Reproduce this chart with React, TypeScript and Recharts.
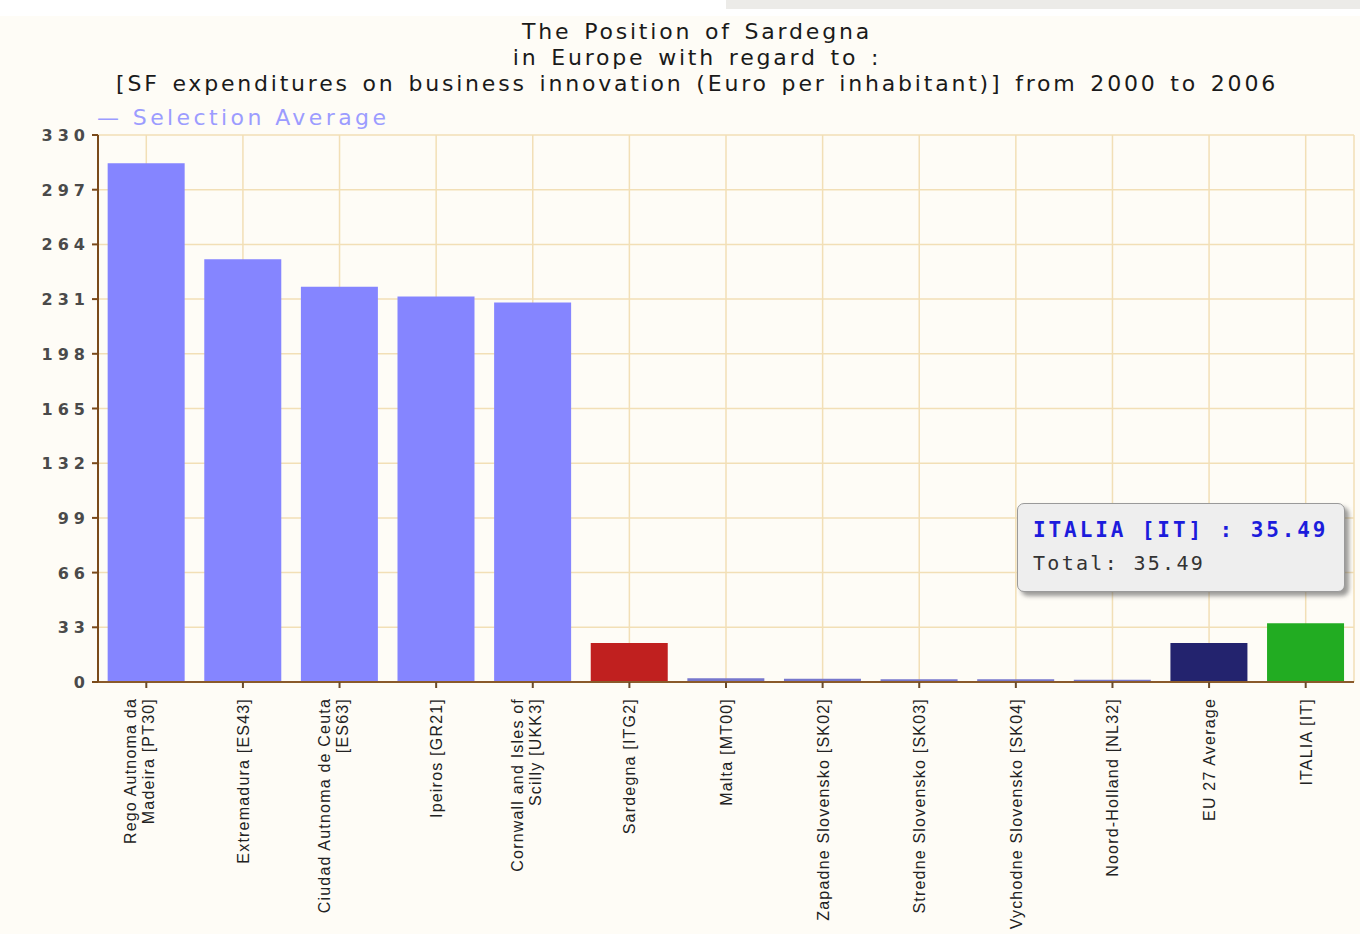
import React from "react";
import {
  BarChart,
  Bar,
  XAxis,
  YAxis,
  CartesianGrid,
  Tooltip,
  Cell,
} from "recharts";

const categories = [
  "Rego Autnoma da Madeira [PT30]",
  "Extremadura [ES43]",
  "Ciudad Autnoma de Ceuta [ES63]",
  "Ipeiros [GR21]",
  "Cornwall and Isles of Scilly [UKK3]",
  "Sardegna [ITG2]",
  "Malta [MT00]",
  "Zapadne Slovensko [SK02]",
  "Stredne Slovensko [SK03]",
  "Vychodne Slovensko [SK04]",
  "Noord-Holland [NL32]",
  "EU 27 Average",
  "ITALIA [IT]",
];

const tickLines: string[][] = [
  ["Rego Autnoma da", "Madeira [PT30]"],
  ["Extremadura [ES43]"],
  ["Ciudad Autnoma de Ceuta", "[ES63]"],
  ["Ipeiros [GR21]"],
  ["Cornwall and Isles of", "Scilly [UKK3]"],
  ["Sardegna [ITG2]"],
  ["Malta [MT00]"],
  ["Zapadne Slovensko [SK02]"],
  ["Stredne Slovensko [SK03]"],
  ["Vychodne Slovensko [SK04]"],
  ["Noord-Holland [NL32]"],
  ["EU 27 Average"],
  ["ITALIA [IT]"],
];

const values = [313, 255, 238.5, 232.5, 229, 23.5, 2.2, 1.9, 1.7, 1.6, 1.3, 23.5, 35.49];

const barColors = [
  "#8585ff",
  "#8585ff",
  "#8585ff",
  "#8585ff",
  "#8585ff",
  "#c0201f",
  "#7777cc",
  "#7777cc",
  "#7777cc",
  "#7777cc",
  "#7777cc",
  "#23236e",
  "#22ac22",
];

const yTicks = [0, 33, 66, 99, 132, 165, 198, 231, 264, 297, 330];

const titleLines = [
  "The Position of Sardegna",
  "in Europe with regard to :",
  "[SF expenditures on business innovation (Euro per inhabitant)] from 2000 to 2006",
];

const legendLabel = "Selection Average";
const tooltipIndex = 12;

const data = categories.map((name, i) => ({ name, value: values[i], lines: tickLines[i] }));

const XTick = (props: any) => {
  const { x, y, index } = props;
  const lines = tickLines[index] || [];
  const n = lines.length;
  return (
    <g>
      {lines.map((ln, i) => {
        const lx = x + 6 + (i - (n - 1)) * 18 + (n > 1 ? 2 : 0);
        const ly = y + 8;
        return (
          <text
            key={i}
            x={lx}
            y={ly}
            transform={`rotate(-90 ${lx} ${ly})`}
            textAnchor="end"
            fontFamily="'Liberation Sans', Arial, sans-serif"
            fontSize={16}
            letterSpacing={1.2}
            fill="#222"
          >
            {ln}
          </text>
        );
      })}
    </g>
  );
};

const YTick = (props: any) => {
  const { x, y, payload } = props;
  return (
    <text
      x={x}
      y={y + 6}
      textAnchor="end"
      fontFamily="'DejaVu Sans', sans-serif"
      fontWeight="bold"
      fontSize={16}
      letterSpacing={5}
      fill="#4a4a4a"
    >
      {payload.value}
    </text>
  );
};

const TipContent = (props: any) => {
  const { payload } = props;
  if (!payload || !payload.length) return null;
  const p = payload[0].payload;
  return (
    <div
      style={{
        width: 328,
        height: 89,
        boxSizing: "border-box",
        background: "#eeeeee",
        border: "1.5px solid #9a9a9a",
        borderRadius: 7,
        boxShadow: "4px 4px 4px rgba(90,90,90,0.6)",
        padding: "11px 0 0 15px",
        fontFamily: "'DejaVu Sans Mono', monospace",
      }}
    >
      <div style={{ color: "#1c1cdc", fontWeight: "bold", fontSize: 21, letterSpacing: 2.9, lineHeight: "30px" }}>
        {p.name} : {p.value.toFixed(2)}
      </div>
      <div style={{ color: "#333", fontSize: 20, letterSpacing: 2.3, lineHeight: "36px" }}>
        Total: {p.value.toFixed(2)}
      </div>
    </div>
  );
};

export default function App() {
  return (
    <div
      style={{
        position: "absolute",
        left: 0,
        top: 0,
        width: 1360,
        height: 934,
        background: "#fefcf6",
        overflow: "hidden",
      }}
    >
      <div style={{ position: "absolute", left: 0, top: 0, width: 1360, height: 16, background: "#ffffff" }} />
      <div style={{ position: "absolute", left: 726, top: 0, width: 634, height: 9, background: "#ecebe8" }} />
      <div
        style={{
          position: "absolute",
          left: 0,
          top: 19,
          width: 1394,
          textAlign: "center",
          fontFamily: "'DejaVu Sans', sans-serif",
          fontSize: 22,
          letterSpacing: 2.8,
          wordSpacing: 3,
          lineHeight: "26px",
          color: "#1a1a1a",
        }}
      >
        {titleLines.map((t, i) => (
          <div key={i}>{t}</div>
        ))}
      </div>
      <div
        style={{
          position: "absolute",
          left: 97,
          top: 105,
          fontFamily: "'DejaVu Sans', sans-serif",
          fontSize: 22,
          letterSpacing: 3.4,
          color: "#9c9cff",
          whiteSpace: "nowrap",
        }}
      >
        — {legendLabel}
      </div>
      <div style={{ position: "absolute", left: 0, top: 0 }}>
        <BarChart
          width={1360}
          height={934}
          data={data}
          margin={{ top: 135, right: 6, bottom: 0, left: 38 }}
          barCategoryGap="10%"
        >
          <CartesianGrid stroke="#f2dfb6" strokeWidth={1.5} />
          <XAxis
            dataKey="name"
            interval={0}
            height={252}
            tick={<XTick />}
            axisLine={{ stroke: "#8a5a2a", strokeWidth: 2 }}
            tickLine={{ stroke: "#6a4a2a", strokeWidth: 2 }}
            tickSize={6}
          />
          <YAxis
            type="number"
            domain={[0, 330]}
            ticks={yTicks}
            interval={0}
            width={60}
            tick={<YTick />}
            axisLine={{ stroke: "#7a4a1a", strokeWidth: 2 }}
            tickLine={{ stroke: "#7a4a1a", strokeWidth: 2 }}
            tickSize={6}
          />
          <Tooltip
            active={true}
            defaultIndex={tooltipIndex}
            position={{ x: 1017, y: 503 }}
            cursor={false}
            isAnimationActive={false}
            content={<TipContent />}
            wrapperStyle={{ outline: "none" }}
          />
          <Bar dataKey="value" isAnimationActive={false}>
            {data.map((d, i) => (
              <Cell key={d.name} fill={barColors[i]} />
            ))}
          </Bar>
        </BarChart>
      </div>
    </div>
  );
}
